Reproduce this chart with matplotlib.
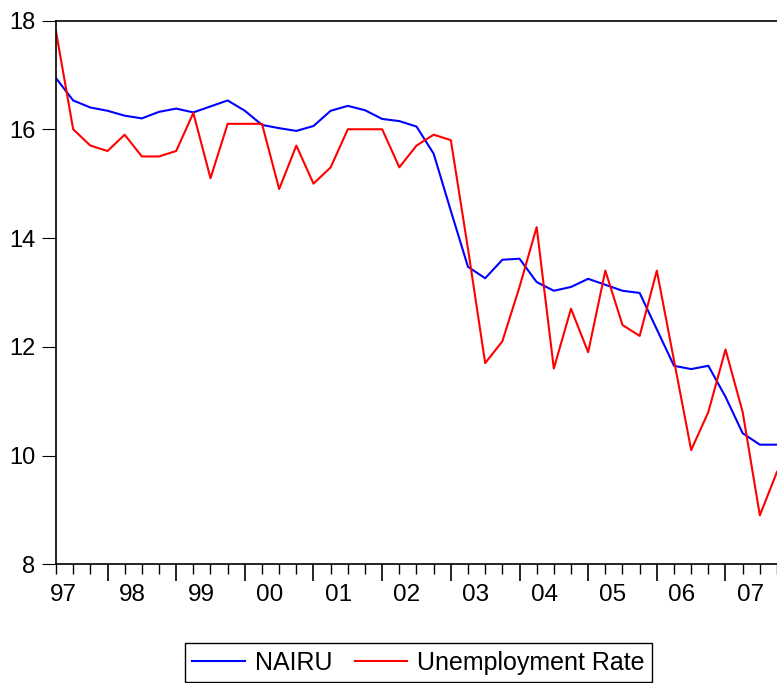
import matplotlib.pyplot as plt
import matplotlib.transforms as mtransforms
import numpy as np

plt.rcParams['font.family'] = ['Liberation Sans', 'DejaVu Sans']

FONTSIZE = 17

# Quarterly series, 1997 onwards
nairu = [16.94, 16.53, 16.40, 16.34, 16.25, 16.20, 16.32, 16.38, 16.31, 16.42,
         16.53, 16.34, 16.08, 16.02, 15.97, 16.06, 16.34, 16.43, 16.35, 16.19,
         16.15, 16.05, 15.55, 14.50, 13.47, 13.26, 13.60, 13.62, 13.19, 13.03,
         13.10, 13.25, 13.14, 13.03, 12.99, 12.32, 11.65, 11.59, 11.65, 11.08,
         10.41, 10.20, 10.20]
unemp = [17.8, 16.0, 15.7, 15.6, 15.9, 15.5, 15.5, 15.6, 16.3, 15.1,
         16.1, 16.1, 16.1, 14.9, 15.7, 15.0, 15.3, 16.0, 16.0, 16.0,
         15.3, 15.7, 15.9, 15.8, 13.8, 11.7, 12.1, 13.1, 14.2, 11.6,
         12.7, 11.9, 13.4, 12.4, 12.2, 13.4, 11.75, 10.1, 10.8, 11.95,
         10.8, 8.9, 9.7]
year_labels = ["97", "98", "99", "00", "01", "02", "03", "04", "05", "06", "07"]

x = np.arange(len(nairu))

fig = plt.figure(figsize=(7.77, 6.83), dpi=100)
ax = fig.add_axes([56/777, 1 - 564.3/683, 1 - 56/777, (564.3 - 20.5)/683])

ax.plot(x, nairu, color="#0000ff", lw=1.5, label="NAIRU")
ax.plot(x, unemp, color="#ff0000", lw=1.5, label="Unemployment Rate")

ax.set_xlim(0, 41.6)
ax.set_ylim(8, 18)

for s in ["left", "bottom", "top"]:
    ax.spines[s].set_linewidth(1.2)
ax.spines["right"].set_visible(False)

ax.set_yticks([8, 10, 12, 14, 16, 18])
ax.tick_params(axis="y", direction="out", length=10, width=0.8, pad=5,
               labelsize=FONTSIZE)

# year ticks between years, quarter ticks on every obs
ax.set_xticks(np.arange(3, len(x), 4))
ax.set_xticks(x, minor=True)
ax.set_xticklabels([])
ax.tick_params(axis="x", which="major", direction="out", length=12, width=1.2)
ax.tick_params(axis="x", which="minor", direction="out", length=7, width=1.0)

trans = mtransforms.blended_transform_factory(ax.transData, ax.transAxes)
for i, lab in enumerate(year_labels):
    ax.annotate(lab, (4 * i + 0.45, 0), xycoords=trans, xytext=(0, -14),
                textcoords="offset points", ha="center", va="top",
                fontsize=FONTSIZE + 0.5, annotation_clip=False)

leg = ax.legend(loc="center", bbox_to_anchor=(418.5/777, 1 - 662.7/683),
                bbox_transform=fig.transFigure, ncol=2, fontsize=18,
                frameon=True, fancybox=False, framealpha=1, edgecolor="black",
                handlelength=2.1, handletextpad=0.4, columnspacing=0.9,
                borderpad=0.3, borderaxespad=0)
leg.get_frame().set_linewidth(1.0)

plt.savefig("out.png", dpi=100)
